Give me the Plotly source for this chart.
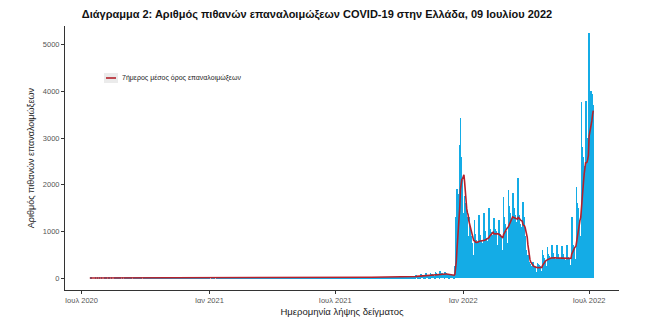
import pandas as pd
import plotly.graph_objects as go

# ---------------- DATA ----------------
start_date = "2020-07-13"

# daily possible reinfections, one row per week (Mon..Sun), from 2020-07-13
cases_2020 = [
    0, 0, 1, 0, 0, 0, 0,   0, 1, 0, 0, 1, 0, 0,   1, 0, 0, 1, 0, 0, 0,
    0, 1, 1, 0, 0, 0, 0,   1, 0, 0, 1, 0, 0, 0,   0, 1, 0, 0, 1, 0, 0,
    1, 1, 0, 0, 0, 1, 0,   0, 1, 1, 0, 1, 0, 0,   1, 0, 1, 1, 0, 0, 0,
    1, 1, 0, 1, 0, 1, 0,   1, 0, 1, 1, 1, 0, 0,   1, 1, 1, 0, 1, 0, 0,
    2, 1, 1, 1, 0, 1, 0,   1, 2, 1, 1, 1, 0, 0,   2, 1, 2, 1, 1, 1, 0,
    2, 2, 1, 2, 1, 1, 0,   3, 2, 2, 1, 2, 1, 1,   3, 2, 2, 2, 1, 1, 0,
    2, 3, 2, 2, 2, 1, 1,   3, 2, 2, 1, 2, 1, 0,   2, 2, 1, 2, 1, 1, 0,
    2, 1, 2, 1, 1, 1, 0,   2, 2, 1, 1, 1, 0, 0,   1, 2, 1, 1, 0, 1, 0,
    1, 1, 1, 0, 1, 0, 0,
]
cases_2021a = [
    2, 1, 1, 1, 1, 0, 0,   2, 2, 1, 1, 1, 1, 0,   2, 2, 2, 1, 1, 1, 0,
    3, 2, 2, 2, 1, 1, 1,   3, 3, 2, 2, 2, 1, 1,   4, 3, 3, 2, 2, 1, 1,
    5, 4, 3, 3, 3, 2, 1,   6, 5, 4, 4, 3, 2, 1,   8, 6, 5, 5, 4, 3, 2,
    10, 8, 7, 6, 5, 3, 2,  12, 9, 8, 7, 6, 4, 3,  14, 11, 9, 8, 7, 5, 3,
    15, 12, 10, 9, 8, 5, 3, 16, 12, 11, 10, 8, 6, 3, 15, 12, 10, 9, 8, 5, 3,
    13, 10, 9, 8, 7, 5, 3, 11, 9, 7, 6, 5, 3, 2,  10, 8, 7, 6, 5, 3, 2,
    9, 7, 6, 5, 5, 3, 2,   8, 6, 5, 5, 4, 3, 1,   7, 5, 5, 4, 4, 2, 1,
    6, 5, 4, 4, 3, 2, 1,   5, 4, 4, 3, 3, 2, 1,   5, 4, 3, 3, 3, 2, 1,
    5, 4, 4, 3, 3, 2, 1,   6, 5, 4, 4, 3, 2, 1,
]
cases_2021b = [
    8, 6, 6, 5, 5, 3, 2,        12, 10, 9, 8, 7, 5, 3,      18, 14, 12, 11, 10, 7, 4,
    22, 17, 15, 14, 12, 8, 5,   24, 19, 17, 15, 14, 9, 6,   25, 20, 18, 16, 15, 10, 5,
    26, 21, 18, 17, 15, 10, 6,  27, 22, 19, 18, 16, 11, 6,  28, 22, 20, 18, 17, 11, 7,
    29, 23, 21, 19, 17, 12, 7,  30, 24, 21, 20, 18, 12, 7,  30, 24, 22, 20, 18, 12, 7,
    31, 25, 22, 20, 19, 13, 8,  33, 26, 24, 22, 20, 14, 8,  38, 30, 27, 25, 23, 16, 9,
    48, 38, 34, 31, 29, 20, 12, 62, 50, 44, 41, 38, 26, 15, 80, 64, 57, 53, 49, 34, 20,
    98, 78, 70, 65, 60, 42, 25, 118, 95, 84, 78, 72, 50, 30, 132, 106, 94, 88, 80, 56, 34,
    140, 112, 100, 93, 86, 60, 36, 130, 104, 92, 86, 80, 56, 33, 95, 76, 68, 63, 58, 41, 25,
    250, 700, 1300, 1900, 1800, 900, 1100,
    2850, 3430, 2600, 2100, 1900, 1200, 1400,
]
cases_2022 = [
    1750, 1600, 1450, 1100, 1300, 900, 500,
    1300, 1100, 900, 800, 750, 500, 300,
    1250, 950, 820, 780, 740, 540, 380,
    1350, 920, 830, 800, 760, 560, 310,
    1390, 1000, 900, 850, 800, 600, 410,
    1500, 1200, 1050, 980, 920, 700, 510,
    1290, 1150, 1050, 1000, 950, 700, 510,
    1240, 1050, 950, 880, 840, 600, 460,
    1740, 1300, 1150, 1050, 1000, 750, 560,
    1890, 1550, 1400, 1300, 1250, 950, 830,
    1820, 1500, 1350, 1250, 1200, 900, 800,
    2140, 1350, 1200, 1150, 1100, 850, 700,
    1630, 1300, 1100, 900, 600, 350, 250,
    500, 400, 350, 300, 250, 150, 120,
    350, 300, 260, 230, 220, 120, 100,
    330, 290, 270, 250, 200, 150, 100,
    600, 500, 420, 380, 350, 250, 180,
    670, 520, 480, 430, 410, 300, 200,
    700, 530, 470, 430, 400, 290, 190,
    700, 520, 460, 430, 400, 280, 180,
    690, 510, 450, 420, 390, 280, 170,
    700, 520, 460, 420, 400, 280, 180,
    1310, 800, 700, 650, 600, 400, 300,
    1950, 1600, 1500, 1250, 1200, 900, 700,
    3780, 2800, 2600, 2500, 2400, 1800, 1400,
    3800, 2900, 3000, 3100, 5250, 2400, 1900,
    4000, 3950, 3900, 3700,
]

tick_dates = ["2020-07-01", "2021-01-01", "2021-07-01", "2022-01-01", "2022-07-01"]
tick_labels = ["Ιουλ 2020", "Ιαν 2021", "Ιουλ 2021", "Ιαν 2022", "Ιουλ 2022"]
y_ticks = [0, 1000, 2000, 3000, 4000, 5000]

title_text = "Διάγραμμα 2: Αριθμός πιθανών επαναλοιμώξεων COVID-19 στην Ελλάδα, 09 Ιουλίου 2022"
legend_text = "7ήμερος μέσος όρος επαναλοιμώξεων"
x_title = "Ημερομηνία λήψης δείγματος"
y_title = "Αριθμός πιθανών επαναλοιμώξεων"

# ---------------- BUILD ----------------
values = cases_2020 + cases_2021a + cases_2021b + cases_2022
dates = pd.date_range(start_date, periods=len(values), freq="D")
s = pd.Series(values, index=dates)
avg7 = s.rolling(7, min_periods=1).mean()

FONT = "Liberation Sans"

fig = go.Figure()
fig.add_trace(go.Bar(
    x=dates, y=values, marker=dict(color="#14ACE6", line=dict(width=0)),
    showlegend=False, hoverinfo="x+y",
))
fig.add_trace(go.Scatter(
    x=avg7.index, y=avg7.values, mode="lines",
    line=dict(color="#B5212B", width=1.6), name=legend_text, showlegend=False,
))

# manual legend (ggplot style key)
fig.add_shape(type="rect", xref="paper", yref="paper",
              x0=(104 - 65) / 554, x1=(118 - 65) / 554,
              y0=(290 - 83) / 264, y1=(290 - 73) / 264,
              fillcolor="#EBEBEB", line=dict(width=0), layer="below")
fig.add_shape(type="line", xref="paper", yref="paper",
              x0=(106 - 65) / 554, x1=(116 - 65) / 554,
              y0=(290 - 78) / 264, y1=(290 - 78) / 264,
              line=dict(color="#B5212B", width=1.6))
fig.add_annotation(xref="paper", yref="paper", x=(120 - 65) / 554, y=(290 - 78) / 264,
                   text=legend_text, showarrow=False, xanchor="left", yanchor="middle",
                   font=dict(family=FONT, size=7, color="#222222"))

fig.update_layout(
    width=650, height=336,
    margin=dict(l=65, r=31, t=26, b=46),
    paper_bgcolor="white", plot_bgcolor="white",
    bargap=0,
    title=dict(text="<b>" + title_text + "</b>", x=317 / 650, xanchor="center",
               y=1 - 14 / 336, yanchor="middle",
               font=dict(family=FONT, size=11, color="#111111")),
    font=dict(family=FONT),
)
fig.update_xaxes(
    type="date", range=["2020-06-07 08:00", "2022-08-13"],
    tickvals=tick_dates, ticktext=tick_labels,
    showline=True, linecolor="#333333", linewidth=1,
    ticks="outside", ticklen=3, tickcolor="#333333",
    tickfont=dict(family=FONT, size=7.5, color="#555555"),
    showgrid=False, zeroline=False,
    title=dict(text=x_title, font=dict(family=FONT, size=9.5, color="#222222"), standoff=4),
)
fig.update_yaxes(
    range=[-257, 5400], tickvals=y_ticks,
    showline=True, linecolor="#333333", linewidth=1,
    ticks="outside", ticklen=3, tickcolor="#333333",
    tickfont=dict(family=FONT, size=7.5, color="#555555"),
    showgrid=False, zeroline=False,
    title=dict(text=y_title, font=dict(family=FONT, size=9, color="#222222"), standoff=6),
)

fig.write_html("out.html")
